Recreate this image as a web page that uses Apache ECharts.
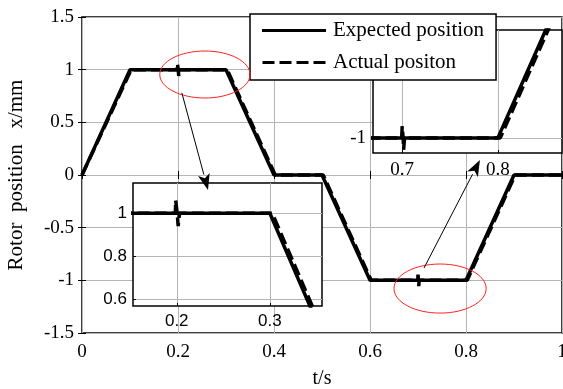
<!DOCTYPE html>
<html>
<head>
<meta charset="utf-8">
<script src="https://cdn.jsdelivr.net/npm/echarts@6/dist/echarts.min.js"></script>
<style>
  html, body { margin: 0; padding: 0; background: #fff; }
  #chart { width: 563px; height: 389px; }
</style>
</head>
<body>
<div id="chart"></div>
<script>
// position profile (t in s, x in mm)
const expectedPos = [[0, 0], [0.1, 1], [0.3, 1], [0.4, 0], [0.5, 0], [0.6, -1], [0.8, -1], [0.9, 0], [1, 0]];
const actualPos = [
  [0, 0], [0.0025, 0], [0.1025, 1], [0.1985, 1], [0.1988, 1.06], [0.2005, 1], [0.2015, 0.94], [0.203, 1],
  [0.3025, 1], [0.4025, 0], [0.5025, 0], [0.6025, -1], [0.6995, -1], [0.7, -0.945], [0.701, -1],
  [0.7015, -1.055], [0.7025, -1], [0.8025, -1], [0.9025, 0], [1, 0]
];
const seriesNames = ['Expected position', 'Actual positon'];

// zoomed views
const inset1XTicks = [0.2, 0.3];
const inset1YTicks = [0.6, 0.8, 1];
const inset2XTicks = [0.7, 0.8];
const inset2YTicks = [-1];

// annotations, in data coords of the main plot
const ellipses = [
  { c: [0.256, 0.954], r: [0.094, 0.223] },
  { c: [0.746, -1.078], r: [0.096, 0.233] }
];
const arrows = [
  { from: [0.208, 0.78], to: [0.2625, -0.142] },
  { from: [0.7125, -0.883], to: [0.829, 0.142] }
];

const serif = 'Liberation Serif';
const sans = 'Liberation Sans';
const gridGrey = '#b4b4b4';
// legend swatches: solid bar and dashed bar
const solidIcon = 'path://M0,0H64V3H0Z';
const dashIcon = 'path://M0,0H12V3H0Z M17,0H29V3H17Z M34,0H46V3H34Z M51,0H63V3H51Z';

const chart = echarts.init(document.getElementById('chart'));

function insetAxis(idx, min, max, ticks, font, size, margin) {
  return {
    type: 'value', gridIndex: idx, min: min, max: max, z: 6,
    axisLine: { show: false },
    axisTick: { inside: true, length: 3, customValues: ticks, lineStyle: { color: '#000' } },
    axisLabel: { customValues: ticks, color: '#000', fontFamily: font, fontSize: size, margin: margin },
    splitLine: { show: true, lineStyle: { color: gridGrey, width: 1 } }
  };
}

function lineSeries(data, dashed, xi, yi, z, name) {
  return {
    name: name,
    type: 'line',
    xAxisIndex: xi, yAxisIndex: yi, z: z,
    data: data,
    symbol: 'none',
    clip: true,
    animation: false,
    itemStyle: { color: '#000' },
    lineStyle: { color: '#000', width: 3.5, type: dashed ? [12, 5] : 'solid' }
  };
}

const gridBase = { show: true, borderColor: '#000', borderWidth: 1.5, backgroundColor: '#fff', outerBoundsMode: 'none', containLabel: false };

const option = {
  backgroundColor: '#fff',
  animation: false,
  grid: [
    Object.assign({ left: 82, top: 17, width: 480, height: 316 }, gridBase),
    Object.assign({ left: 133, top: 183, width: 189, height: 123, z: 5 }, gridBase),
    Object.assign({ left: 373, top: 30, width: 189, height: 123, z: 5 }, gridBase)
  ],
  legend: {
    data: [
      { name: seriesNames[0], icon: solidIcon },
      { name: seriesNames[1], icon: dashIcon }
    ],
    orient: 'vertical',
    left: 250, top: 14,
    padding: [6, 12, 7, 12],
    itemWidth: 64, itemHeight: 3, itemGap: 11,
    backgroundColor: '#fff', borderColor: '#000', borderWidth: 1.5, borderRadius: 0,
    z: 10,
    textStyle: { fontFamily: serif, fontSize: 21, color: '#000', lineHeight: 21, padding: [0, 0, 0, 2] }
  },
  xAxis: [
    {
      type: 'value', gridIndex: 0, min: 0, max: 1, interval: 0.2,
      name: 't/s', nameLocation: 'middle', nameGap: 36,
      nameTextStyle: { fontFamily: serif, fontSize: 20, color: '#000' },
      axisLine: { show: false },
      axisTick: { inside: true, length: 4, lineStyle: { color: '#000' } },
      axisLabel: { color: '#000', fontFamily: serif, fontSize: 19, margin: 10 },
      splitLine: { show: true, lineStyle: { color: gridGrey, width: 1 } }
    },
    {
      type: 'value', gridIndex: 0, position: 'top', min: 0, max: 1, interval: 0.2,
      axisLine: { show: false }, axisLabel: { show: false }, splitLine: { show: false },
      axisTick: { inside: true, length: 4, lineStyle: { color: '#000' } }
    },
    insetAxis(1, 0.153, 0.356, inset1XTicks, sans, 17, 7),
    insetAxis(2, 0.6695, 0.867, inset2XTicks, serif, 19, 8)
  ],
  yAxis: [
    {
      type: 'value', gridIndex: 0, min: -1.5, max: 1.5, interval: 0.5,
      name: 'Rotor  position   x/mm', nameLocation: 'middle', nameGap: 55,
      nameTextStyle: { fontFamily: serif, fontSize: 21, color: '#000' },
      axisLine: { show: false },
      axisTick: { inside: true, length: 4, lineStyle: { color: '#000' } },
      axisLabel: { color: '#000', fontFamily: serif, fontSize: 19, margin: 8 },
      splitLine: { show: true, lineStyle: { color: gridGrey, width: 1 } }
    },
    {
      type: 'value', gridIndex: 0, position: 'right', min: -1.5, max: 1.5, interval: 0.5,
      axisLine: { show: false }, axisLabel: { show: false }, splitLine: { show: false },
      axisTick: { inside: true, length: 4, lineStyle: { color: '#000' } }
    },
    insetAxis(1, 0.57, 1.14, inset1YTicks, sans, 17, 6),
    insetAxis(2, -1.07, -0.5, inset2YTicks, serif, 19, 7)
  ],
  series: [
    lineSeries(expectedPos, false, 0, 0, 2, seriesNames[0]),
    lineSeries(actualPos, true, 0, 0, 2, seriesNames[1]),
    lineSeries(expectedPos, false, 2, 2, 6),
    lineSeries(actualPos, true, 2, 2, 6),
    lineSeries(expectedPos, false, 3, 3, 6),
    lineSeries(actualPos, true, 3, 3, 6)
  ]
};

chart.setOption(option);

// red ellipses and arrows, placed through the main grid's scales
function toPx(p) { return chart.convertToPixel({ gridIndex: 0 }, p); }
const graphics = [];
ellipses.forEach(function (e) {
  const c = toPx(e.c);
  const edge = toPx([e.c[0] + e.r[0], e.c[1] + e.r[1]]);
  graphics.push({
    type: 'ellipse', z: 20, silent: true,
    shape: { cx: c[0], cy: c[1], rx: Math.abs(edge[0] - c[0]), ry: Math.abs(edge[1] - c[1]) },
    style: { fill: 'none', stroke: '#ff2020', lineWidth: 1 }
  });
});
arrows.forEach(function (a) {
  const p0 = toPx(a.from), p1 = toPx(a.to);
  const dx = p1[0] - p0[0], dy = p1[1] - p0[1];
  const len = Math.sqrt(dx * dx + dy * dy);
  const ux = dx / len, uy = dy / len;
  const hl = 16, hw = 6;
  const bx = p1[0] - ux * hl, by = p1[1] - uy * hl;
  graphics.push({
    type: 'line', z: 20, silent: true,
    shape: { x1: p0[0], y1: p0[1], x2: bx, y2: by },
    style: { stroke: '#000', lineWidth: 1 }
  });
  graphics.push({
    type: 'polygon', z: 20, silent: true,
    shape: { points: [[p1[0], p1[1]], [bx - uy * hw, by + ux * hw], [bx + ux * 4, by + uy * 4], [bx + uy * hw, by - ux * hw]] },
    style: { fill: '#000' }
  });
});
chart.setOption({ graphic: graphics });
</script>
</body>
</html>
